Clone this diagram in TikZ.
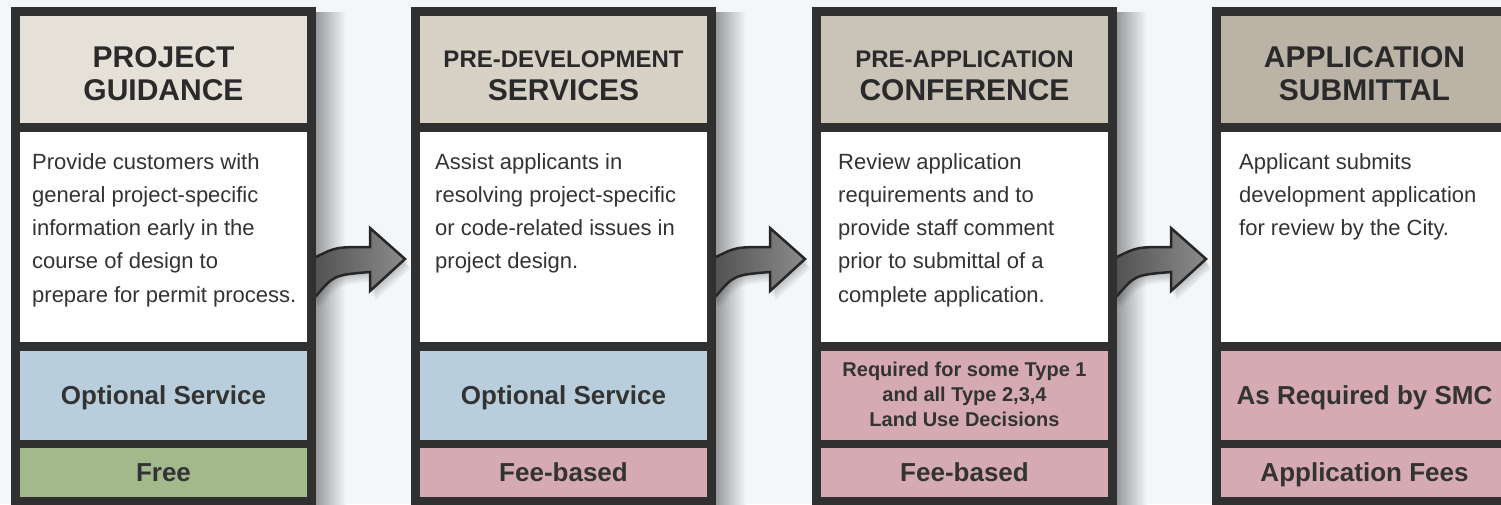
\documentclass[tikz,border=0pt]{standalone}
\usepackage{fontspec}
\setmainfont{Liberation Sans}
\usetikzlibrary{calc}
\definecolor{bgc}{HTML}{F4F7FA}
\definecolor{frm}{HTML}{303030}
\definecolor{hdrA}{HTML}{E5E1D9}
\definecolor{hdrB}{HTML}{D8D2C6}
\definecolor{hdrC}{HTML}{CAC4B8}
\definecolor{hdrD}{HTML}{BCB3A7}
\definecolor{optblue}{HTML}{B8CEDC}
\definecolor{freegreen}{HTML}{A3B98B}
\definecolor{feepink}{HTML}{D5AAB2}
\definecolor{txt}{HTML}{333333}
\definecolor{hdtxt}{HTML}{2A2A2A}
\definecolor{arrowline}{HTML}{262626}
\definecolor{arrowdark}{HTML}{4F4F4F}
\definecolor{arrowlight}{HTML}{8C8C8C}
\tikzset{
  frame/.style={fill=frm, inner sep=0pt, outer sep=0pt, minimum width=305pt, minimum height=510pt, anchor=north west},
  band/.style={inner sep=0pt, outer sep=0pt, minimum width=287pt, anchor=north west},
  hdrtxt/.style={anchor=base, text=hdtxt, inner sep=0pt, font=\bfseries\fontsize{30}{33}\selectfont},
  hdrsmall/.style={hdrtxt, font=\bfseries\fontsize{24}{28}\selectfont},
  bodytxt/.style={anchor=base west, align=left, inner sep=0pt, text=txt, font=\fontsize{22}{33.3}\selectfont},
  labtxt/.style={anchor=base, inner sep=0pt, text=txt, font=\bfseries\fontsize{26}{30}\selectfont},
  smalllab/.style={anchor=base, inner sep=0pt, text=txt, font=\bfseries\fontsize{20}{25}\selectfont},
  colshadow/.style={left color=black!38!bgc, right color=bgc},
  flowarrow/.pic={
    \foreach \d in {1,...,6}{
      \fill[black, opacity=0.04, shift={(\d*0.9, \d*1.6)}]
        (-6,289) -- (-6,250) -- (0,250) .. controls (20,240) .. (54,240) -- (54,221) -- (89,252)
        -- (54,284) -- (54,265) .. controls (18,268) .. (0,289) -- cycle;
    }
    \draw[draw=arrowline, line width=2.5pt, line join=miter, left color=arrowdark, right color=arrowlight]
      (-6,289) -- (-6,250) -- (0,250) .. controls (20,240) .. (54,240) -- (54,221) -- (89,252)
      -- (54,284) -- (54,265) .. controls (18,268) .. (0,289) -- cycle;
  }
}
\begin{document}
\begin{tikzpicture}[x=1pt, y=-1pt]
\useasboundingbox (0,0) rectangle (1501,504);
\clip (0,0) rectangle (1501,504);
\fill[bgc] (0,0) rectangle (1501,504);

% column shadows
\shade[colshadow] (316,12) rectangle (346,520);
\shade[colshadow] (716,12) rectangle (746,520);
\shade[colshadow] (1117,12) rectangle (1147,520);

% right edges of the columns, where the arrows start
\coordinate (e1) at (316,7);
\coordinate (e2) at (716,7);
\coordinate (e3) at (1117,7);

% arrows (drawn beneath the frames)
\pic at (e1) {flowarrow};
\pic at (e2) {flowarrow};
\pic at (e3) {flowarrow};

% ---------- Column 1 ----------
\node[frame] (f1) at (11,7) {};
\node[band, fill=hdrA, minimum height=107pt] (h1) at (20,16) {};
\node[band, fill=white, minimum height=210pt] (b1) at (20,132) {};
\node[band, fill=optblue, minimum height=89pt] (m1) at (20,351) {};
\node[band, fill=freegreen, minimum height=49pt] (p1) at (20,448) {};
\node[hdrtxt] (h1a) at (163.5,67) {PROJECT};
\node[hdrtxt] (h1b) at (163.5,100) {GUIDANCE};
\node[bodytxt] (t1) at (32,302.2) {Provide customers with\\general project-specific\\information early in the\\course of design to\\prepare for permit process.};
\node[labtxt] (m1t) at (163.5,404) {Optional Service};
\node[labtxt] (p1t) at (163.5,481) {Free};

% ---------- Column 2 ----------
\node[frame] (f2) at (411,7) {};
\node[band, fill=hdrB, minimum height=107pt] (h2) at (420,16) {};
\node[band, fill=white, minimum height=210pt] (b2) at (420,132) {};
\node[band, fill=optblue, minimum height=89pt] (m2) at (420,351) {};
\node[band, fill=feepink, minimum height=49pt] (p2) at (420,448) {};
\node[hdrsmall] (h2a) at (563.5,67) {PRE-DEVELOPMENT};
\node[hdrtxt] (h2b) at (563.5,100) {SERVICES};
\node[bodytxt] (t2) at (435,268.9) {Assist applicants in\\resolving project-specific\\or code-related issues in\\project design.};
\node[labtxt] (m2t) at (563.5,404) {Optional Service};
\node[labtxt] (p2t) at (563.5,481) {Fee-based};

% ---------- Column 3 ----------
\node[frame] (f3) at (812,7) {};
\node[band, fill=hdrC, minimum height=107pt] (h3) at (821,16) {};
\node[band, fill=white, minimum height=210pt] (b3) at (821,132) {};
\node[band, fill=feepink, minimum height=89pt] (m3) at (821,351) {};
\node[band, fill=feepink, minimum height=49pt] (p3) at (821,448) {};
\node[hdrsmall] (h3a) at (964.5,67) {PRE-APPLICATION};
\node[hdrtxt] (h3b) at (964.5,100) {CONFERENCE};
\node[bodytxt] (t3) at (838,302.2) {Review application\\requirements and to\\provide staff comment\\prior to submittal of a\\complete application.};
\node[smalllab] (m3a) at (964.5,376) {Required for some Type 1};
\node[smalllab] (m3b) at (964.5,401) {and all Type 2,3,4};
\node[smalllab] (m3c) at (964.5,426) {Land Use Decisions};
\node[labtxt] (p3t) at (964.5,481) {Fee-based};

% ---------- Column 4 ----------
\node[frame] (f4) at (1212,7) {};
\node[band, fill=hdrD, minimum height=107pt] (h4) at (1221,16) {};
\node[band, fill=white, minimum height=210pt] (b4) at (1221,132) {};
\node[band, fill=feepink, minimum height=89pt] (m4) at (1221,351) {};
\node[band, fill=feepink, minimum height=49pt] (p4) at (1221,448) {};
\node[hdrtxt] (h4a) at (1364.5,67) {APPLICATION};
\node[hdrtxt] (h4b) at (1364.5,100) {SUBMITTAL};
\node[bodytxt] (t4) at (1239,235.6) {Applicant submits\\development application\\for review by the City.};
\node[labtxt] (m4t) at (1364.5,404) {As Required by SMC};
\node[labtxt] (p4t) at (1364.5,481) {Application Fees};
\end{tikzpicture}
\end{document}
